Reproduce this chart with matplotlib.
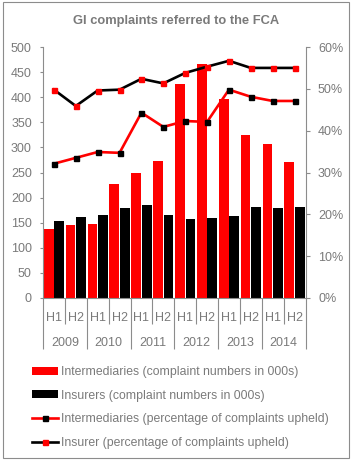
import matplotlib
matplotlib.use("Agg")
import matplotlib.pyplot as plt
from matplotlib.patches import Rectangle, Patch
from matplotlib.lines import Line2D
from matplotlib.transforms import blended_transform_factory
from matplotlib.ticker import PercentFormatter

plt.rcParams["font.family"] = ["Liberation Sans", "DejaVu Sans"]

GREY = "#8c8c8c"
TEXT = "#7a7a7a"

years = ["2009", "2010", "2011", "2012", "2013", "2014"]
halves = ["H1", "H2"] * 6

intermediaries_n = [138, 146, 148, 228, 250, 273, 427, 467, 396, 325, 307, 271]
insurers_n = [153, 162, 166, 180, 186, 166, 158, 160, 164, 182, 180, 182]
intermediaries_pct = [32.1, 33.5, 34.9, 34.7, 44.3, 40.9, 42.3, 42.1, 49.8, 48.1, 47.1, 47.1]
insurer_pct = [49.8, 45.9, 49.6, 49.8, 52.4, 51.3, 53.8, 55.3, 56.7, 55.0, 55.0, 55.0]

fig = plt.figure(figsize=(3.53, 4.62), dpi=100)
ax = fig.add_axes([43 / 353, 164 / 462, 262.5 / 353, 251 / 462])
ax2 = ax.twinx()

x = list(range(len(halves)))
w = 0.45
ax.bar([i - 0.24 for i in x], intermediaries_n, width=w, color="#ff0000")
ax.bar([i + 0.24 for i in x], insurers_n, width=w, color="#000000")

ax2.plot(x, intermediaries_pct, color="#ff0000", lw=1.9, marker="s",
         ms=3.6, mfc="black", mec="black")
ax2.plot(x, insurer_pct, color="#000000", lw=1.9, marker="s",
         ms=3.6, mfc="#ff0000", mec="#ff0000")

ax.set_xlim(-0.5, 11.5)
ax.set_ylim(0, 500)
ax.set_yticks(range(0, 501, 50))
ax2.set_ylim(0, 60)
ax2.set_yticks(range(0, 61, 10))
ax2.yaxis.set_major_formatter(PercentFormatter(decimals=0))

for a in (ax, ax2):
    for s in a.spines.values():
        s.set_visible(False)
ax.spines["left"].set_visible(True)
ax.spines["bottom"].set_visible(True)
ax2.spines["right"].set_visible(True)
for s in (ax.spines["left"], ax.spines["bottom"], ax2.spines["right"]):
    s.set_color(GREY)
    s.set_linewidth(0.8)

ax.tick_params(axis="y", colors=GREY, labelcolor=TEXT, labelsize=9, length=2, width=0.8, pad=6)
ax2.tick_params(axis="y", colors=GREY, labelcolor=TEXT, labelsize=9, length=3, width=0.8, pad=6)

# two-level category axis
ax.set_xticks([-0.5 + 2 * k for k in range(7)])
ax.set_xticks([-0.5 + k for k in range(13)], minor=True)
ax.set_xticklabels([])
ax.tick_params(axis="x", which="major", direction="out", length=37, width=0.8, color=GREY)
ax.tick_params(axis="x", which="minor", direction="out", length=18.5, width=0.8, color=GREY)

tr = blended_transform_factory(ax.transData, ax.transAxes)
for i, h in enumerate(halves):
    ax.text(i, -0.078, h, transform=tr, ha="center", va="center", fontsize=9, color=TEXT)
for k, yr in enumerate(years):
    ax.text(2 * k + 0.5, -0.18, yr, transform=tr, ha="center", va="center", fontsize=9, color=TEXT)

fig.text(0.5, 1 - 21 / 462, "GI complaints referred to the FCA", ha="center", va="center",
         fontsize=9.3, fontweight="bold", color=TEXT)

handles = [
    Patch(facecolor="#ff0000"),
    Patch(facecolor="#000000"),
    Line2D([], [], color="#ff0000", lw=1.9, marker="s", ms=3.6, mfc="black", mec="black"),
    Line2D([], [], color="#000000", lw=1.9, marker="s", ms=3.6, mfc="#ff0000", mec="#ff0000"),
]
labels = [
    "Intermediaries (complaint numbers in 000s)",
    "Insurers (complaint numbers in 000s)",
    "Intermediaries (percentage of complaints upheld)",
    "Insurer (percentage of complaints upheld)",
]
leg = fig.legend(handles, labels, loc="upper left", bbox_to_anchor=(27 / 353, 1 - 361 / 462),
                 frameon=False, fontsize=8.8, handlelength=2.1, handleheight=0.65,
                 handletextpad=0.25, labelspacing=0.95, numpoints=1, borderaxespad=0)
for t in leg.get_texts():
    t.set_color(TEXT)

fig.patches.append(Rectangle((3 / 353, 4 / 462), 346 / 353, 456 / 462, transform=fig.transFigure,
                             fill=False, edgecolor=GREY, lw=0.8))

fig.savefig("out.png", dpi=100)
